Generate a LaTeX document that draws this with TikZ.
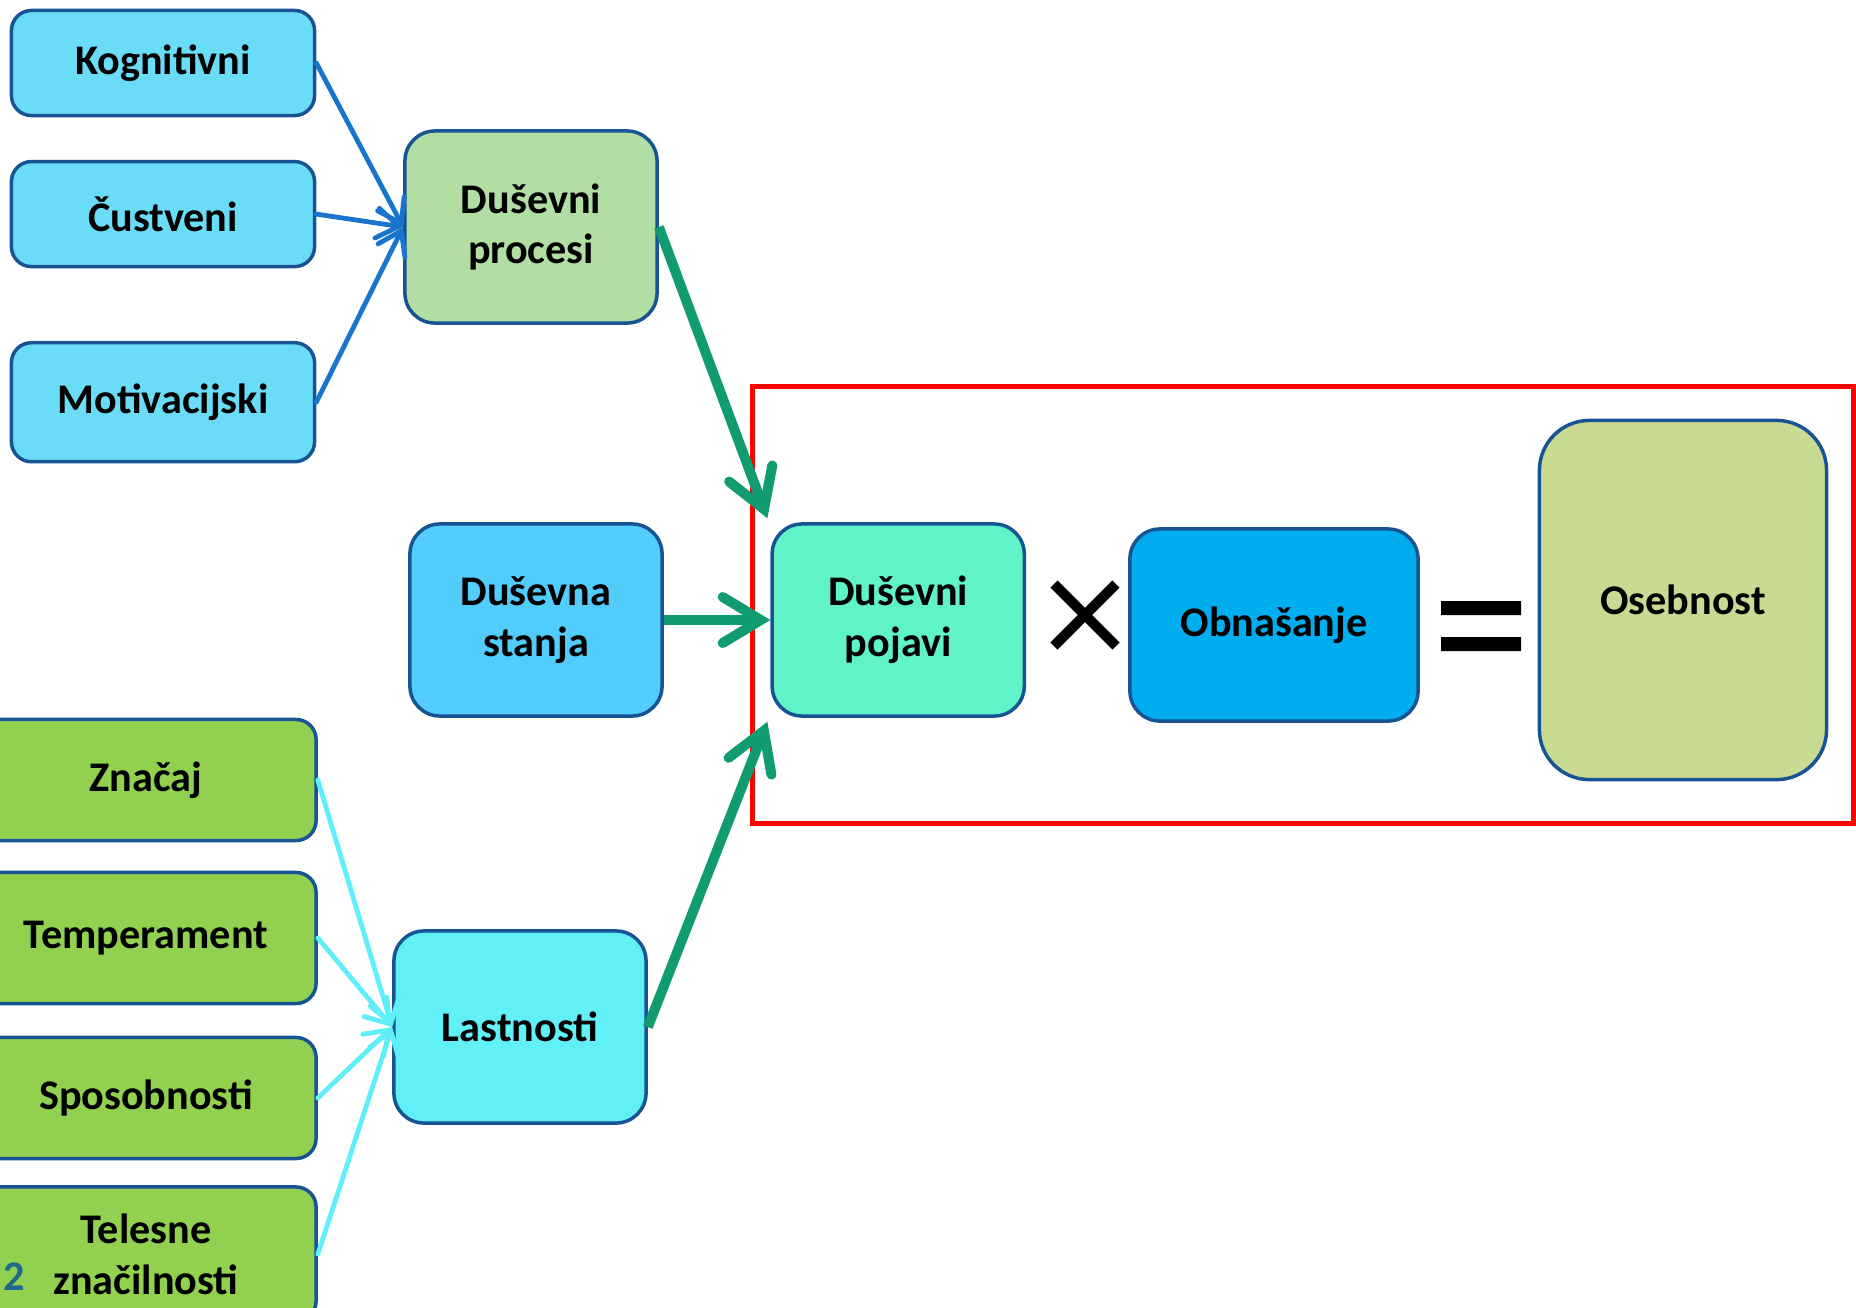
\documentclass[tikz,border=0pt]{standalone}
\usepackage{fontspec}
\setmainfont{Carlito}
\usetikzlibrary{arrows.meta,positioning}

\definecolor{boxline}{RGB}{24,84,148}
\definecolor{skyfill}{RGB}{106,220,248}
\definecolor{leaffill}{RGB}{146,208,80}
\definecolor{procfill}{RGB}{178,222,164}
\definecolor{statefill}{RGB}{82,204,250}
\definecolor{pojfill}{RGB}{96,243,200}
\definecolor{behfill}{RGB}{0,174,239}
\definecolor{persfill}{RGB}{201,219,146}
\definecolor{lastfill}{RGB}{97,240,246}
\definecolor{bluearrow}{RGB}{24,116,205}
\definecolor{greenarrow}{RGB}{17,155,112}
\definecolor{cyanarrow}{RGB}{95,238,250}
\definecolor{slidenum}{RGB}{28,106,140}

\begin{document}
\begin{tikzpicture}[%
    x=0.01cm, y=-0.01cm,
    on grid,
    font=\fontsize{12}{14.5}\selectfont\bfseries,
    box/.style={draw=boxline, line width=0.035cm, rounded corners=0.2cm,
      align=center, inner sep=0pt},
    srcbox/.style={box, fill=skyfill, minimum width=3.03cm, minimum height=1.05cm},
    trait/.style={box, fill=leaffill, minimum width=3.4cm, minimum height=1.21cm},
    mid/.style={box, rounded corners=0.3cm, minimum width=2.52cm, minimum height=1.92cm},
    thin arrow/.style={line width=0.048cm, line cap=round,
      -{Straight Barb[length=0.22cm, width=0.3cm, line cap=round]}},
    thick arrow/.style={draw=greenarrow, line width=0.1cm,
      -{Straight Barb[length=0.38cm, width=0.46cm, line cap=round]}}
  ]
    \useasboundingbox (0,0) rectangle (1856,1308);

    % frame round the result
    \draw[red, line width=0.05cm] (752,386) rectangle (1853,823);

    \node[srcbox] (kog) at (163,63) {Kognitivni};
    \node[srcbox] (cust) [below=1.51cm of kog] {Čustveni};
    \node[srcbox, minimum height=1.19cm] (motiv) [below=1.88cm of cust] {Motivacijski};

    \node[mid, fill=procfill] (proc) at (531,227) {Duševni\\procesi};
    \node[mid, fill=statefill] (stanja) at (536,620) {Duševna\\stanja};
    \node[mid, fill=lastfill] (lastn) at (520,1027) {Lastnosti};

    \node[mid, fill=pojfill] (pojavi) [right=3.62cm of stanja] {Duševni\\pojavi};
    \node[mid, fill=behfill, minimum width=2.88cm] (obnas) at (1274,625) {Obnašanje};
    \node[box, rounded corners=0.5cm, fill=persfill, minimum width=2.87cm,
      minimum height=3.59cm] (osebn) at (1683,600) {Osebnost};

    \node[trait] (znacaj) at (146,780) {Značaj};
    \node[trait, minimum height=1.31cm] (temper) at (146,938) {Temperament};
    \node[trait] (sposob) at (146,1098) {Sposobnosti};
    \node[trait, minimum height=1.34cm] (telesne) at (146,1254) {Telesne\\značilnosti};
    \node[text=slidenum, anchor=base] (num) at (14,1290) {2};

    % times and equals
    \coordinate (times) at (1085,615);
    \draw[line width=0.1cm] ([shift={(-31,-31)}]times) -- ([shift={(31,31)}]times)
                            ([shift={(-31,31)}]times) -- ([shift={(31,-31)}]times);
    \coordinate (equals) at (1481,626);
    \fill ([shift={(-40,-25)}]equals) rectangle ([shift={(40,-11)}]equals)
          ([shift={(-40,11)}]equals) rectangle ([shift={(40,25)}]equals);

    \path (kog.east)   edge[thin arrow, bluearrow] (proc.west)
          (cust.east)  edge[thin arrow, bluearrow] (proc.west)
          (motiv.east) edge[thin arrow, bluearrow] (proc.west);

    \path (znacaj.east)  edge[thin arrow, cyanarrow] (lastn.west)
          (temper.east)  edge[thin arrow, cyanarrow] (lastn.west)
          (sposob.east)  edge[thin arrow, cyanarrow] (lastn.west)
          (telesne.east) edge[thin arrow, cyanarrow] (lastn.west);

    \draw[thick arrow] (proc.east) -- ([shift={(-3,-4)}]pojavi.north west);
    \draw[thick arrow] (stanja.east) -- (pojavi.west);
    \draw[thick arrow] (lastn.east) -- ([shift={(-3,4)}]pojavi.south west);
\end{tikzpicture}
\end{document}
